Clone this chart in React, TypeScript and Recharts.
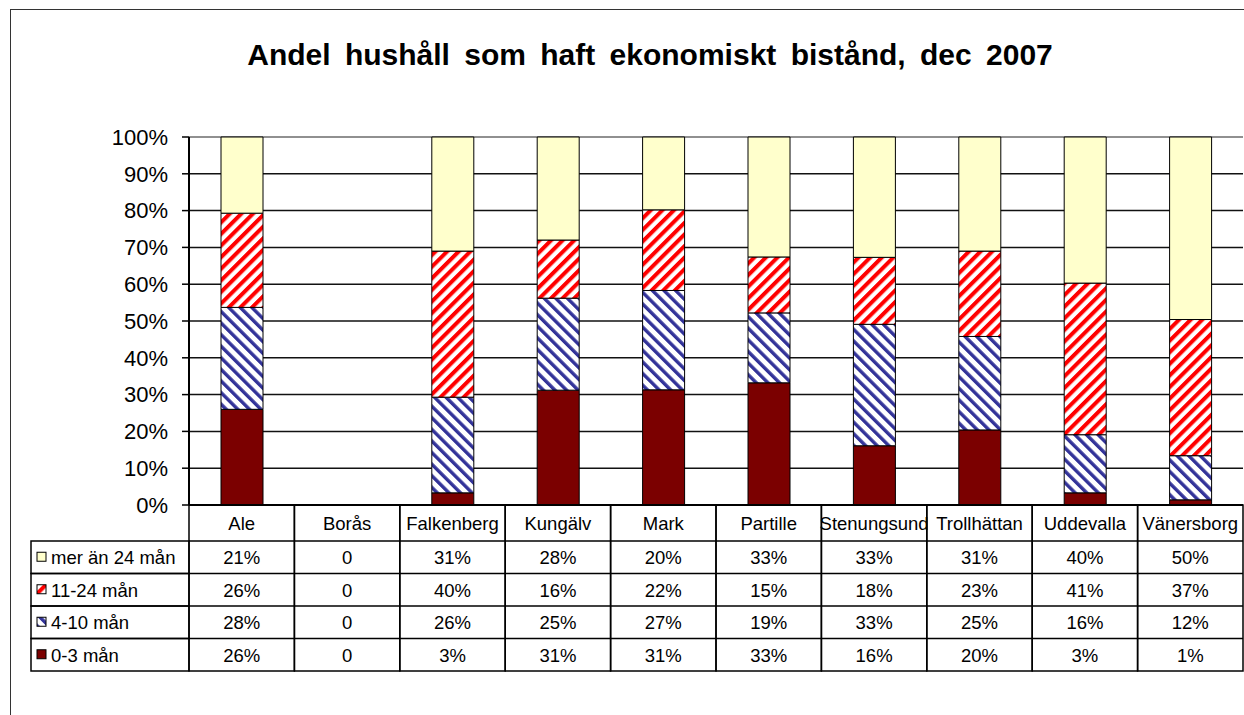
import React from 'react';
import { BarChart, Bar, XAxis, YAxis, CartesianGrid, Legend } from 'recharts';

const categories = ['Ale', 'Borås', 'Falkenberg', 'Kungälv', 'Mark', 'Partille', 'Stenungsund', 'Trollhättan', 'Uddevalla', 'Vänersborg'];
const seriesNames = ['0-3 mån', '4-10 mån', '11-24 mån', 'mer än 24 mån'];
const m0to3 = [26.0, 0, 3.3, 31.2, 31.3, 33.2, 16.1, 20.4, 3.3, 1.4];
const m4to10 = [27.7, 0, 26.0, 25.0, 27.0, 19.0, 33.0, 25.4, 15.8, 12.0];
const m11to24 = [25.6, 0, 39.7, 15.8, 21.9, 15.2, 18.2, 23.2, 41.2, 37.0];
const m24plus = [20.7, 0, 31.0, 28.0, 19.8, 32.6, 32.7, 31.0, 39.7, 49.6];
const yTicks = [0, 10, 20, 30, 40, 50, 60, 70, 80, 90, 100];

const seriesValues = [m0to3, m4to10, m11to24, m24plus];
const seriesFills = ['#7B0000', 'url(#blueStripe)', 'url(#redStripe)', '#FFFFCC'];

const data = categories.map((name, i) => {
  const row: Record<string, any> = { name };
  seriesNames.forEach((s, k) => { row[s] = seriesValues[k][i]; });
  return row;
});

const FONT = 'Arial, "Liberation Sans", sans-serif';
const W = 1244;
const H = 715;
const PLOT_LEFT = 189;
const PLOT_RIGHT = 1243;
const Y_AXIS_W = 70;
const COL_W = (PLOT_RIGHT - PLOT_LEFT) / categories.length;
const HEAD_H = 36;
const ROW_H = 32.5;
const TABLE_H = HEAD_H + ROW_H * 4;
const TABLE_FS = 18.5;

const fmt = (v: number) => (v === 0 ? '0' : `${Math.round(v)}%`);
const tableOrder = [3, 2, 1, 0];

const TableColumn = (props: any) => {
  const { x, y, payload, index } = props;
  const left = x - COL_W / 2;
  const i = index ?? categories.indexOf(payload.value);
  return (
    <g>
      <rect x={left} y={y} width={COL_W} height={TABLE_H} fill="none" stroke="#000" strokeWidth={1.5} />
      <text x={x} y={y + HEAD_H / 2 + 7} textAnchor="middle" fontSize={TABLE_FS} fontFamily={FONT} fill="#000">
        {payload.value}
      </text>
      {tableOrder.map((k, r) => {
        const top = y + HEAD_H + r * ROW_H;
        return (
          <g key={k}>
            <line x1={left} x2={left + COL_W} y1={top} y2={top} stroke="#000" strokeWidth={1.5} />
            <text x={x} y={top + ROW_H / 2 + 7} textAnchor="middle" fontSize={TABLE_FS} fontFamily={FONT} fill="#000">
              {fmt(seriesValues[k][i])}
            </text>
          </g>
        );
      })}
    </g>
  );
};

const LegendColumn = () => {
  const w = PLOT_LEFT - 31;
  return (
    <svg width={w + 2} height={ROW_H * 4 + 2} style={{ display: 'block' }}>
      {tableOrder.map((k, r) => {
        const top = 1 + r * ROW_H;
        return (
          <g key={k}>
            <rect x={1} y={top} width={w} height={ROW_H} fill="none" stroke="#000" strokeWidth={1.5} />
            <rect x={7} y={top + ROW_H / 2 - 5} width={9} height={9} fill={seriesFills[k]} stroke="#000" strokeWidth={1} />
            <text x={21} y={top + ROW_H / 2 + 7} fontSize={TABLE_FS} fontFamily={FONT} fill="#000">
              {seriesNames[k]}
            </text>
          </g>
        );
      })}
    </svg>
  );
};

const GridLine = (p: any) => (
  <line
    key={p.key}
    x1={p.x1}
    x2={p.x2}
    y1={p.y1}
    y2={p.y2}
    stroke={p.y1 < 140 ? '#888' : '#111'}
    strokeWidth={1.5}
  />
);

export default function App() {
  return (
    <div style={{ position: 'absolute', left: 0, top: 0, width: W, height: H, overflow: 'hidden', background: '#fff' }}>
      <div
        style={{
          position: 'absolute', left: 10, top: 9, width: 1260, height: 730,
          border: '1.5px solid #333', boxSizing: 'border-box',
        }}
      />
      <div
        style={{
          position: 'absolute', left: 0, top: 40, width: 1300, textAlign: 'center',
          fontFamily: FONT, fontWeight: 'bold', fontSize: 30, lineHeight: '30px', wordSpacing: 6, color: '#000',
        }}
      >
        Andel hushåll som haft ekonomiskt bistånd, dec 2007
      </div>
      <div style={{ position: 'absolute', left: 0, top: 0 }}>
        <BarChart
          width={W}
          height={H}
          data={data}
          margin={{ top: 137, right: W - PLOT_RIGHT, bottom: H - 505 - TABLE_H, left: PLOT_LEFT - Y_AXIS_W }}
          barSize={42}
        >
          <defs>
            <pattern id="redStripe" patternUnits="userSpaceOnUse" width="8.2" height="8.2" patternTransform="rotate(45)">
              <rect width="8.2" height="8.2" fill="#fff" />
              <rect width="4" height="8.2" fill="#FF0000" />
            </pattern>
            <pattern id="blueStripe" patternUnits="userSpaceOnUse" width="8.2" height="8.2" patternTransform="rotate(-45)">
              <rect width="8.2" height="8.2" fill="#fff" />
              <rect width="3.4" height="8.2" fill="#333399" />
            </pattern>
          </defs>
          <CartesianGrid vertical={false} horizontal={GridLine} />
          <XAxis
            dataKey="name"
            interval={0}
            height={TABLE_H}
            tickLine={false}
            tickSize={0}
            tickMargin={0}
            axisLine={{ stroke: '#000', strokeWidth: 2 }}
            tick={<TableColumn />}
          />
          <YAxis
            width={Y_AXIS_W}
            domain={[0, 100]}
            ticks={yTicks}
            tickFormatter={(v) => `${v}%`}
            tickSize={7}
            tickMargin={14}
            axisLine={{ stroke: '#000', strokeWidth: 2 }}
            tickLine={{ stroke: '#000', strokeWidth: 1.5 }}
            tick={{ fontSize: 22, fill: '#000', fontFamily: FONT }}
          />
          <Legend
            layout="horizontal"
            verticalAlign="middle"
            align="center"
            wrapperStyle={{ left: 30, top: 505 + HEAD_H - 1, width: PLOT_LEFT - 29, height: ROW_H * 4 + 2 }}
            content={<LegendColumn />}
          />
          {seriesNames.map((s, k) => (
            <Bar
              key={s}
              dataKey={s}
              name={s}
              stackId="a"
              fill={seriesFills[k]}
              stroke="#000"
              strokeWidth={1}
              isAnimationActive={false}
            />
          ))}
        </BarChart>
      </div>
    </div>
  );
}
